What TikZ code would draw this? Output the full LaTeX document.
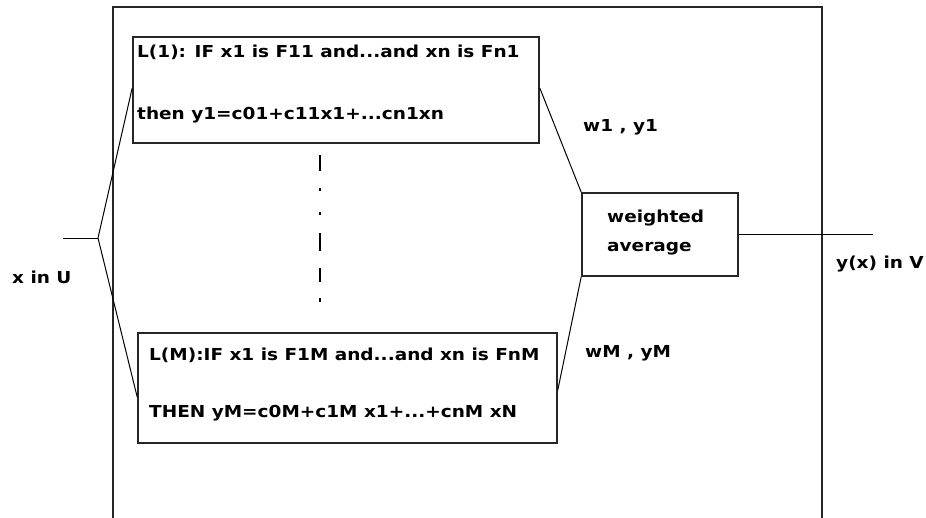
\documentclass[tikz,border=0pt]{standalone}
\usepackage{fontspec}
\newfontfamily\lab{DejaVu Sans Bold}[FakeStretch=1.12]
\begin{document}
\begin{tikzpicture}[x=1pt,y=-1pt,
  frame/.style={draw=black!85, line width=1.6pt},
  rulebox/.style={draw=black!85, line width=1.6pt, inner sep=0pt, rectangle},
  lbl/.style={inner sep=0pt, font=\lab\fontsize{16.5}{20}\selectfont},
  wire/.style={draw=black, line width=1pt},
  dashpart/.style={draw=black, line width=1.6pt}]
\useasboundingbox (0,0) rectangle (926,517);
% outer frame
\draw[frame] (113,518) -- (113,7) -- (822,7) -- (822,518);
% boxes
\node[rulebox, minimum width=406pt, minimum height=106pt] (top) at (336,90) {};
\node[rulebox, minimum width=419pt, minimum height=110pt] (bot) at (347.5,388) {};
\node[rulebox, minimum width=156pt, minimum height=83pt] (wa) at (660,234.5) {};
% texts
\node[lbl, anchor=base west] (t1) at (137,57) {L(1): IF x1 is F11 and...and xn is Fn1};
\node[lbl, anchor=base west] (t2) at (137,119) {then y1=c01+c11x1+...cn1xn};
\node[lbl, anchor=base west] (b1) at (149,360) {L(M):IF x1 is F1M and...and xn is FnM};
\node[lbl, anchor=base west] (b2) at (149,417) {THEN yM=c0M+c1M x1+...+cnM xN};
\node[lbl, anchor=base west] (w1) at (607,222) {weighted};
\node[lbl, anchor=base west] (w2) at (607,251) {average};
\node[lbl, anchor=base west] (l1) at (583,131) {w1 , y1};
\node[lbl, anchor=base west] (lM) at (585,357) {wM , yM};
\node[lbl, anchor=base west] (out) at (836,268) {y(x) in V};
\node[lbl, anchor=base west] (in) at (12,283) {x in U};
% connectors
\coordinate (xin) at (63,238);
\coordinate (fork) at (98,238);
\coordinate (yout) at (873,234.5);
\draw[wire] (xin) -- (fork);
\draw[wire] (fork) -- ([yshift=2pt]top.west);
\draw[wire] (fork) -- ([yshift=-9pt]bot.west);
\draw[wire] ([yshift=2pt]top.east) -- (wa.north west);
\draw[wire] ([yshift=-2pt]bot.east) -- (wa.south west);
\draw[wire] (wa.east) -- (yout);
% dash-dot vertical
\draw[dashpart] (320,155) -- (320,171);
\draw[dashpart] (320,187.5) -- (320,191);
\draw[dashpart] (320,211.5) -- (320,215);
\draw[dashpart] (320,233) -- (320,251);
\draw[dashpart] (320,268) -- (320,282);
\draw[dashpart] (320,298) -- (320,302);
\end{tikzpicture}
\end{document}
